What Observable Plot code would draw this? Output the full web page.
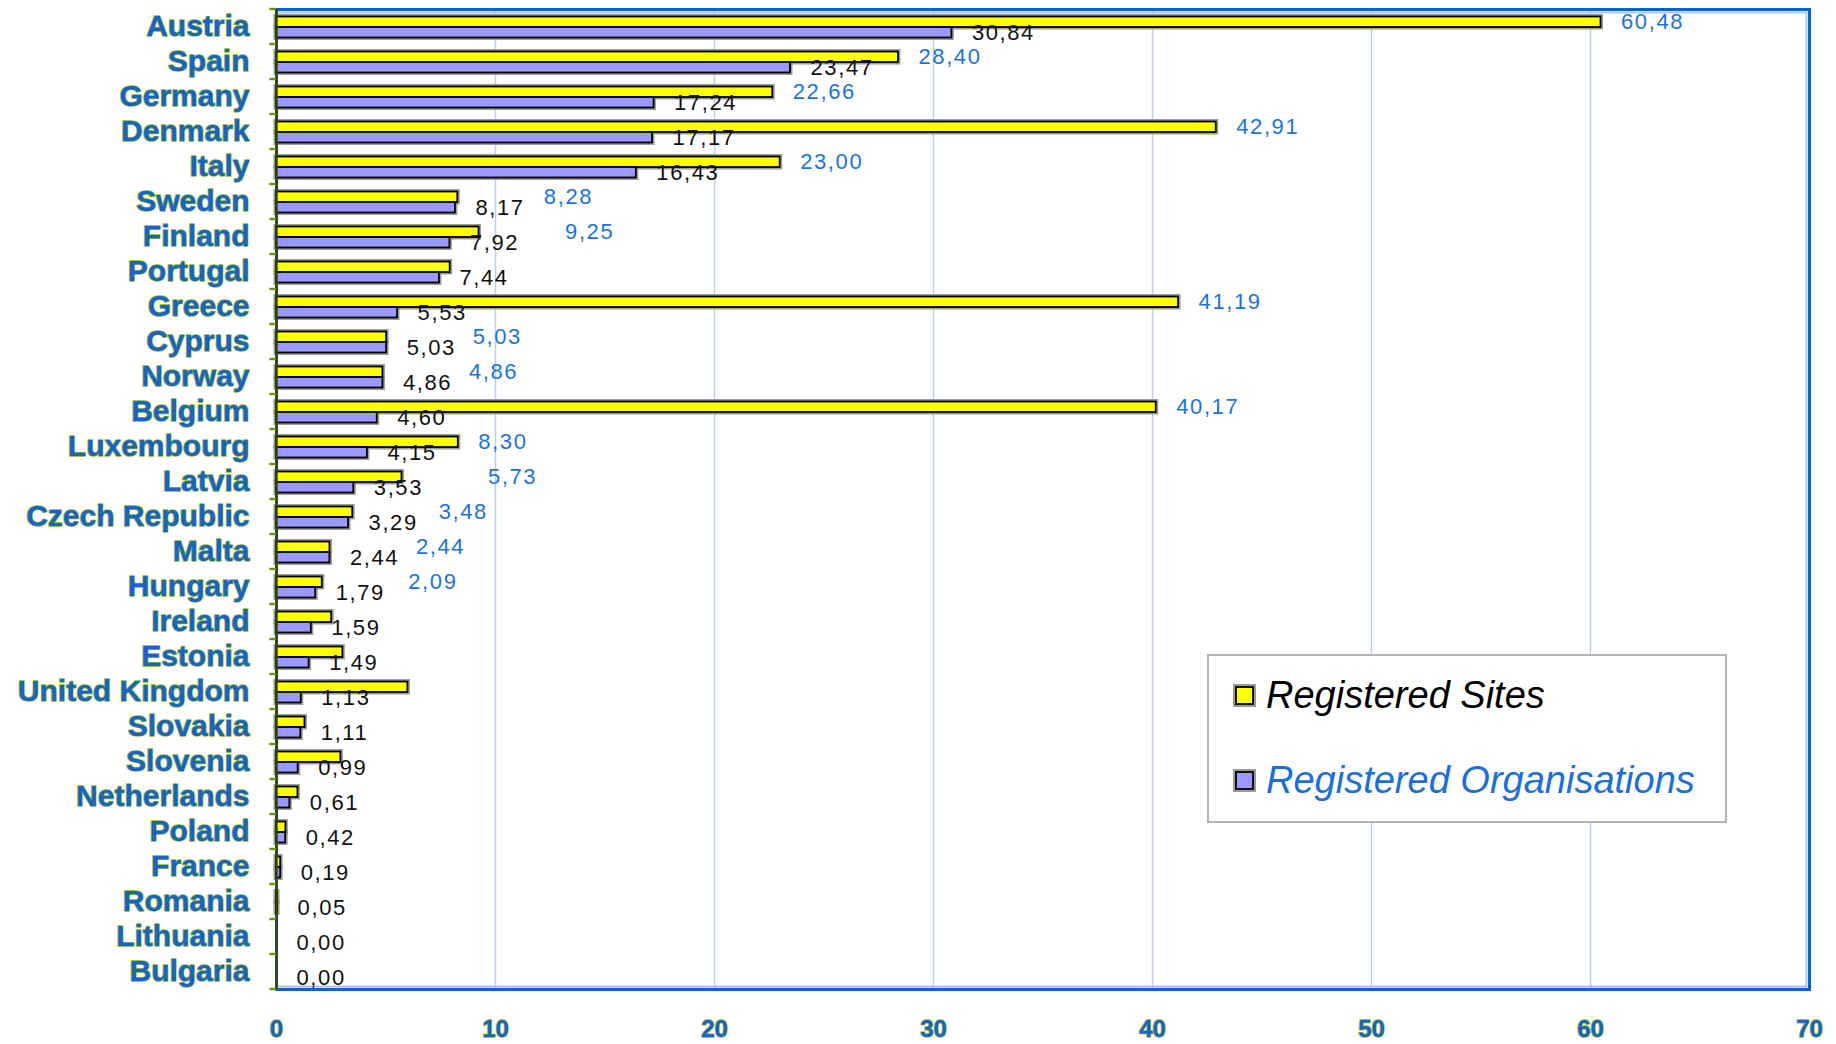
<!DOCTYPE html>
<html>
<head>
<meta charset="utf-8">
<script src="https://cdn.jsdelivr.net/npm/d3@7"></script>
<script src="https://cdn.jsdelivr.net/npm/@observablehq/plot@0.6"></script>
<style>
  html, body { margin: 0; padding: 0; background: #fff; }
  #wrap { position: relative; width: 1836px; height: 1044px; overflow: hidden; }
  #legend {
    position: absolute; left: 1207px; top: 654px; width: 520px; height: 169px;
    box-sizing: border-box; border: 2px solid #b4b4b4; background: #fff;
    font-family: "Liberation Sans", Arial, sans-serif; font-style: italic; font-size: 38px;
  }
  #legend .item { position: absolute; left: 24px; display: flex; align-items: center; white-space: nowrap; }
  #legend .sw { width: 15px; height: 15px; border: 2px solid #111; box-shadow: 0 0 0 2px #9a9a9a; margin-right: 12px; margin-left: 2px; }
  g[aria-description="value labels"] text { letter-spacing: 1.6px; }
</style>
</head>
<body>
<div id="wrap">
  <div id="chart"></div>
  <div id="legend">
    <div class="item" style="top:18px;color:#000"><span class="sw" style="background:#ffff00"></span>Registered Sites</div>
    <div class="item" style="top:103px;color:#1a6fd8"><span class="sw" style="background:#9999ff"></span>Registered Organisations</div>
  </div>
</div>
<script>
const countries = ["Austria","Spain","Germany","Denmark","Italy","Sweden","Finland","Portugal","Greece","Cyprus","Norway","Belgium","Luxembourg","Latvia","Czech Republic","Malta","Hungary","Ireland","Estonia","United Kingdom","Slovakia","Slovenia","Netherlands","Poland","France","Romania","Lithuania","Bulgaria"];
const sites = [60.48,28.40,22.66,42.91,23.00,8.28,9.25,7.93,41.19,5.03,4.86,40.17,8.30,5.73,3.48,2.44,2.09,2.52,3.03,6.00,1.30,2.94,0.98,0.43,0.19,0.05,0.00,0.00];
const organisations = [30.84,23.47,17.24,17.17,16.43,8.17,7.92,7.44,5.53,5.03,4.86,4.60,4.15,3.53,3.29,2.44,1.79,1.59,1.49,1.13,1.11,0.99,0.61,0.42,0.19,0.05,0.00,0.00];
const sitesLabelled = [true,true,true,true,true,true,true,false,true,true,true,true,true,true,true,true,true,false,false,false,false,false,false,false,false,false,false,false];
const xTicks = [0,10,20,30,40,50,60,70];

const fmt = v => d3.format(".2f")(v).replace(".", ",");
const rows = countries.map((c, i) => ({country: c, sites: sites[i], orgs: organisations[i], labelled: sitesLabelled[i]}));
// push a site label further right when it would collide with the organisation label
const siteDx = d => (Math.abs(d.sites - d.orgs) < 3 ? 86 : 20);

const font = "Liberation Sans, Arial, sans-serif";
const chart = Plot.plot({
  width: 1836, height: 1044,
  marginLeft: 276, marginRight: 27, marginTop: 9, marginBottom: 55,
  x: {domain: [0, 70], axis: null},
  y: {domain: countries, padding: 0, axis: null},
  style: {fontFamily: font, background: "#fff", overflow: "visible"},
  marks: [
    Plot.ruleX(xTicks.filter(t => t > 0 && t < 70), {stroke: "#b9d1f0", strokeWidth: 1.5}),
    Plot.frame({stroke: "#a9c7ec", strokeWidth: 2, insetTop: 3, insetRight: 3, insetBottom: 3}),
    Plot.frame({stroke: "#0a64c8", strokeWidth: 3}),
    // gray halo (shadow) behind bars
    Plot.barX(rows, {y: "country", x1: 0, x2: "sites", fill: "#8c8c8c", stroke: "#8c8c8c", strokeWidth: 5, strokeOpacity: 0.85, insetTop: 7.5, insetBottom: 17}),
    Plot.barX(rows, {y: "country", x1: 0, x2: "orgs", fill: "#8c8c8c", stroke: "#8c8c8c", strokeWidth: 5, strokeOpacity: 0.85, insetTop: 18, insetBottom: 6.5}),
    Plot.barX(rows, {y: "country", x1: 0, x2: "sites", fill: "#ffff00", stroke: "#000", strokeWidth: 1.8, insetTop: 7.5, insetBottom: 17}),
    Plot.barX(rows, {y: "country", x1: 0, x2: "orgs", fill: "#9999ff", stroke: "#000", strokeWidth: 1.8, insetTop: 18, insetBottom: 6.5}),
    // value labels
    ...rows.filter(d => d.labelled).map(d =>
      Plot.text([d], {y: "country", x: "sites", text: r => fmt(r.sites), dx: siteDx(d), dy: -5, textAnchor: "start", fill: "#1a73e0", fontSize: 22, fontFamily: font, ariaDescription: "value labels"})),
    Plot.text(rows, {y: "country", x: "orgs", text: d => fmt(d.orgs), dx: 20, dy: 6, textAnchor: "start", fill: "#111", fontSize: 22, fontFamily: font, ariaDescription: "value labels"}),
    // left axis line and boundary ticks
    Plot.ruleX([0], {stroke: "#2f4a00", strokeWidth: 2.5}),
    Plot.barX(countries, {y: d => d, x1: -0.3, x2: 0, fill: "#6f8f10", insetTop: -1.2, insetBottom: 33.8}),
    Plot.barX(countries.slice(-1), {y: d => d, x1: -0.3, x2: 0, fill: "#6f8f10", insetTop: 33.8, insetBottom: -1.2}),
    // category labels
    Plot.text(countries, {y: d => d, frameAnchor: "left", dx: -27, dy: -1, textAnchor: "end", text: d => d,
      fontSize: 30, fontWeight: "bold", fill: "#1c62c4", stroke: "#86c01c", strokeWidth: 1.4, paintOrder: "stroke", fontFamily: font}),
    // x tick labels
    Plot.text(xTicks, {x: d => d, frameAnchor: "bottom", dy: 47, text: d => String(d),
      fontSize: 24, fontWeight: "bold", fill: "#1c62c4", stroke: "#86c01c", strokeWidth: 1.4, paintOrder: "stroke", fontFamily: font})
  ]
});
document.getElementById("chart").appendChild(chart);
</script>
</body>
</html>
